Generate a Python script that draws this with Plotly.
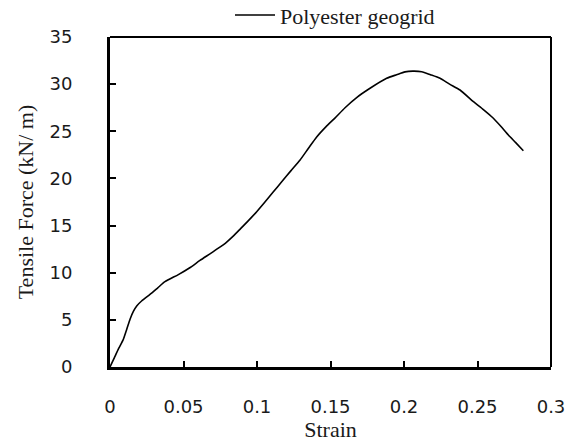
import plotly.graph_objects as go

strain = [0.0, 0.003, 0.006, 0.009, 0.0114, 0.0137, 0.0159, 0.0183, 0.0215, 0.0272, 0.0325,
          0.0374, 0.0465, 0.0540, 0.0612, 0.0680, 0.0737, 0.0790, 0.0840, 0.0890, 0.0940,
          0.0998, 0.1054, 0.1110, 0.1168, 0.1230, 0.1293, 0.1350, 0.1406, 0.1470,
          0.1530, 0.1599, 0.1680, 0.1769, 0.1882, 0.1950, 0.2007, 0.2060, 0.2120,
          0.2180, 0.2245, 0.2310, 0.2381, 0.2472, 0.2540, 0.2608, 0.2660, 0.2710,
          0.2760, 0.2812]
force = [0.0, 1.0, 2.0, 2.9, 4.0, 5.1, 5.9, 6.5, 7.0, 7.7, 8.4,
         9.05, 9.8, 10.5, 11.3, 12.0, 12.6, 13.2, 13.9, 14.7, 15.5,
         16.47, 17.5, 18.55, 19.65, 20.8, 21.95, 23.2, 24.4, 25.5,
         26.4, 27.5, 28.6, 29.56, 30.62, 31.0, 31.3, 31.38, 31.32,
         31.0, 30.62, 30.0, 29.38, 28.14, 27.3, 26.38, 25.5, 24.6,
         23.8, 22.94]

x_ticks = [0, 0.05, 0.1, 0.15, 0.2, 0.25, 0.3]
x_ticktext = ["0", "0.05", "0.1", "0.15", "0.2", "0.25", "0.3"]
y_ticks = [0, 5, 10, 15, 20, 25, 30, 35]

fig = go.Figure()
fig.add_trace(go.Scatter(x=strain, y=force, mode="lines", name="Polyester geogrid",
                         line=dict(color="black", width=1.6, shape="spline", smoothing=0.6)))

tick_font = dict(family="DejaVu Sans", size=18, color="#1a1a1a")
title_font = dict(family="Liberation Serif", size=22, color="#1a1a1a")

fig.update_layout(
    width=575, height=446,
    margin=dict(l=110, r=24, t=37, b=79, autoexpand=False),
    paper_bgcolor="white", plot_bgcolor="white",
    showlegend=True,
    legend=dict(x=0.4, y=0.966, xref="container", yref="container",
                xanchor="left", yanchor="middle", orientation="h",
                font=dict(family="Liberation Serif", size=22, color="#1a1a1a"),
                bgcolor="rgba(0,0,0,0)", itemwidth=40),
    xaxis=dict(range=[0, 0.3], tickvals=x_ticks, ticktext=x_ticktext,
               showgrid=False, zeroline=False, showline=True, linecolor="black",
               linewidth=3, ticks="inside", ticklen=6, tickwidth=2, tickcolor="black",
               tickfont=tick_font, ticklabelstandoff=21, automargin=False,
               title=dict(text="Strain", font=title_font, standoff=4)),
    yaxis=dict(range=[0, 35], tickvals=y_ticks,
               showgrid=False, zeroline=False, showline=True, linecolor="black",
               linewidth=3, ticks="inside", ticklen=6, tickwidth=2, tickcolor="black",
               tickfont=tick_font, ticklabelstandoff=31, automargin=False,
               title=dict(text="Tensile Force (kN/ m)", font=title_font, standoff=10)),
    shapes=[
        dict(type="line", xref="paper", yref="paper", x0=0, x1=1, y0=1, y1=1,
             line=dict(color="black", width=2)),
        dict(type="line", xref="paper", yref="paper", x0=1, x1=1, y0=0, y1=1,
             line=dict(color="black", width=2)),
    ],
)

fig.write_html("out.html")
